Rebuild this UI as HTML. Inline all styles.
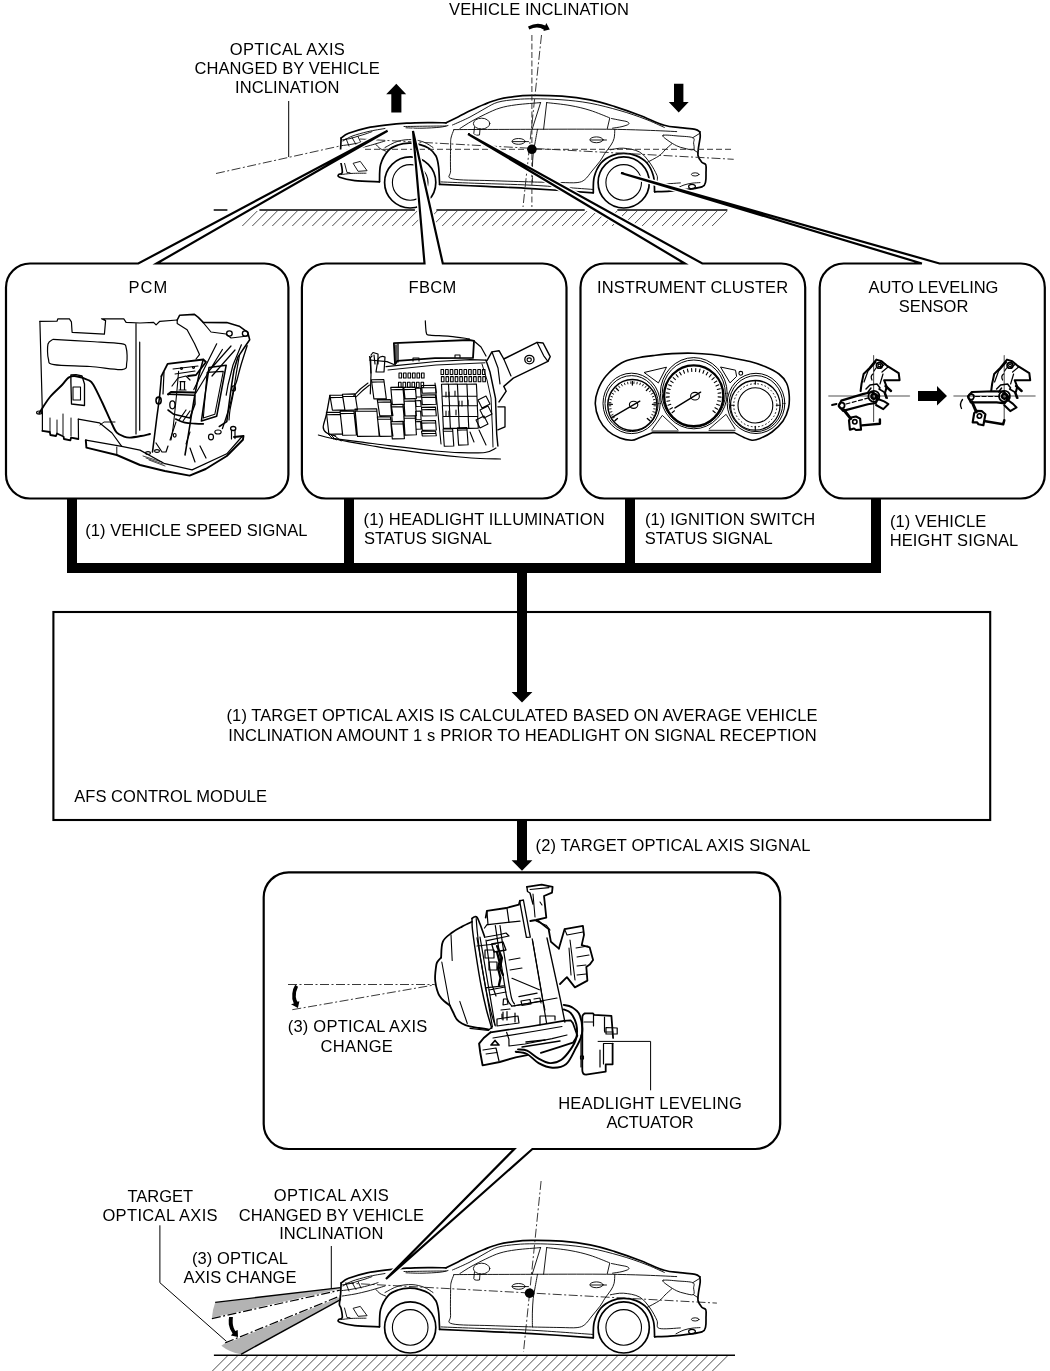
<!DOCTYPE html>
<html><head><meta charset="utf-8"><style>
html,body{margin:0;padding:0;background:#fff;}
svg{display:block;will-change:transform;}
</style></head><body>
<svg width="1050" height="1371" viewBox="0 0 1050 1371">
<rect width="1050" height="1371" fill="#fff"/>
<defs><g id="car"><g fill="none" stroke="#000" stroke-linecap="round" stroke-linejoin="round"><path d="M341.1,1283.0 C342.4,1282.2 344.3,1280.0 348.6,1278.3 C352.9,1276.6 360.6,1274.2 367.1,1272.8 C373.6,1271.4 381.0,1270.6 387.6,1269.8 C394.2,1269.0 399.7,1268.6 406.8,1268.2 C413.9,1267.8 423.4,1267.7 430.0,1267.6 C436.6,1267.5 443.4,1267.8 446.1,1267.8 " stroke-width="1.7" /><path d="M446.1,1267.8 C448.1,1266.8 453.9,1264.0 458.0,1262.0 C462.1,1260.0 466.2,1257.7 470.5,1255.6 C474.8,1253.5 479.4,1251.3 484.0,1249.5 C488.6,1247.7 492.9,1245.8 497.9,1244.5 C502.9,1243.2 508.4,1242.3 514.0,1241.6 C519.6,1240.9 523.4,1240.5 531.4,1240.4 C539.4,1240.3 552.1,1240.5 561.9,1241.2 C571.7,1241.9 581.2,1243.1 590.0,1244.8 C598.8,1246.5 606.5,1249.0 614.8,1251.6 C623.0,1254.2 631.2,1257.1 639.5,1260.2 C647.8,1263.3 657.5,1268.2 664.3,1270.3 C671.0,1272.4 674.9,1271.9 680.0,1272.6 C685.1,1273.3 691.9,1273.7 695.2,1274.4 C698.5,1275.1 699.0,1276.4 699.8,1276.8 " stroke-width="1.7" /><path d="M699.8,1276.8 C699.9,1277.7 700.4,1279.5 700.2,1282.0 C700.0,1284.5 699.0,1288.9 698.6,1292.0 C698.2,1295.1 697.5,1298.0 698.0,1300.5 C698.5,1303.0 700.5,1305.7 701.8,1307.2 C703.1,1308.8 705.1,1308.0 705.8,1309.8 C706.5,1311.6 706.0,1315.2 706.0,1318.0 C706.0,1320.8 706.2,1324.4 705.6,1326.7 C705.0,1329.0 705.3,1330.3 702.5,1331.6 C699.7,1332.8 694.4,1333.4 689.0,1334.2 C683.6,1335.0 675.7,1335.8 670.0,1336.2 C664.3,1336.6 657.2,1336.7 654.6,1336.8 " stroke-width="1.7" /><path d="M593.3,1337.8 C593.4,1335.2 592.9,1327.0 594.2,1322.0 C595.5,1317.0 598.0,1311.6 601.0,1308.0 C604.0,1304.4 608.2,1302.2 612.0,1300.6 C615.8,1299.0 619.8,1298.4 623.8,1298.4 C627.8,1298.4 632.1,1299.0 636.0,1300.6 C639.9,1302.2 644.1,1304.6 647.0,1308.0 C649.9,1311.4 652.1,1316.2 653.4,1321.0 C654.7,1325.8 654.4,1334.2 654.6,1336.8 " stroke-width="1.7" /><path d="M439.6,1329.4 C446.3,1329.7 464.7,1330.5 480.0,1331.2 C495.3,1331.9 512.5,1332.5 531.4,1333.6 C550.3,1334.7 583.0,1337.1 593.3,1337.8 " stroke-width="1.7" /><path d="M441.0,1326.9 C447.5,1327.2 464.9,1327.9 480.0,1328.4 C495.1,1329.0 512.6,1329.2 531.4,1330.2 C550.1,1331.2 582.3,1333.7 592.5,1334.4 " stroke-width="0.9" /><path d="M379.5,1326.8 C379.7,1323.9 379.2,1314.7 380.6,1309.5 C382.1,1304.3 385.3,1298.8 388.2,1295.6 C391.1,1292.3 394.5,1291.2 398.0,1290.0 C401.5,1288.8 405.5,1288.3 409.2,1288.2 C412.9,1288.1 416.7,1288.7 420.0,1289.6 C423.3,1290.5 426.3,1291.5 429.0,1293.4 C431.7,1295.3 434.4,1297.9 436.0,1301.0 C437.6,1304.1 438.0,1307.3 438.6,1312.0 C439.2,1316.7 439.4,1326.5 439.6,1329.4 " stroke-width="1.7" /><path d="M341.1,1283.0 C341.0,1285.2 340.8,1292.3 340.5,1295.9 C340.2,1299.5 339.3,1302.4 339.4,1304.5 C339.5,1306.6 340.6,1306.4 341.1,1308.6 C341.6,1310.8 342.6,1316.0 342.2,1317.8 C341.8,1319.6 339.2,1318.7 338.8,1319.4 C338.4,1320.1 336.9,1321.2 339.6,1322.2 C342.3,1323.2 348.2,1324.8 354.8,1325.6 C361.4,1326.4 375.4,1326.6 379.5,1326.8 " stroke-width="1.7" /><circle cx="410.2" cy="1327.4" r="25.6" stroke-width="1.7"/><circle cx="410.2" cy="1327.4" r="17.8" stroke-width="1.1"/><circle cx="623.7" cy="1327.4" r="25.6" stroke-width="1.7"/><circle cx="623.7" cy="1327.4" r="17.8" stroke-width="1.1"/><path d="M453.7,1274.6 C466.4,1274.5 505.6,1274.4 530.0,1274.3 C554.4,1274.2 581.7,1274.1 600.0,1274.2 C618.3,1274.3 627.2,1274.6 640.0,1275.0 C652.8,1275.4 670.6,1276.3 676.7,1276.6 " stroke-width="0.9" /><path d="M452.5,1270.0 C455.4,1268.7 464.6,1264.8 470.0,1262.0 C475.4,1259.2 480.4,1256.0 485.0,1253.5 C489.6,1251.0 492.7,1248.7 497.9,1247.2 C503.1,1245.7 509.9,1245.1 516.0,1244.5 C522.1,1243.9 526.8,1243.8 534.5,1243.8 C542.2,1243.8 552.8,1244.1 562.0,1244.8 C571.2,1245.5 580.3,1246.4 590.0,1248.2 C599.7,1250.0 610.8,1253.0 620.0,1255.6 C629.2,1258.2 637.6,1261.2 645.0,1264.0 C652.4,1266.8 661.1,1271.0 664.3,1272.4 " stroke-width="0.9" /><path d="M343.0,1286.0 C344.5,1285.2 347.8,1282.8 352.0,1281.2 C356.2,1279.6 362.5,1277.9 368.0,1276.6 C373.5,1275.3 382.2,1274.0 385.0,1273.5 " stroke-width="0.9" /><path d="M404.0,1271.5 C407.5,1271.5 418.0,1271.3 425.0,1271.2 C432.0,1271.1 442.5,1271.0 446.0,1271.0 " stroke-width="0.9" /><path d="M459.8,1273.6 C461.8,1272.3 467.7,1268.4 472.0,1266.0 C476.3,1263.6 481.0,1261.2 485.7,1259.0 C490.4,1256.8 494.9,1254.5 500.0,1253.0 C505.1,1251.5 509.4,1250.7 516.2,1249.8 C523.0,1248.9 536.5,1248.0 540.6,1247.6 " stroke-width="0.9" /><path d="M540.6,1247.6 L532.2,1274.2 M546.7,1247.6 L543.6,1274.2" stroke-width="0.9" /><path d="M546.7,1247.6 C550.6,1248.1 562.8,1249.2 570.0,1250.5 C577.2,1251.8 583.4,1253.2 590.0,1255.3 C596.6,1257.4 606.5,1261.6 609.8,1262.9  L607.3,1273.6" stroke-width="0.9" /><path d="M611.5,1263.5 C612.9,1263.8 617.4,1264.7 620.0,1265.2 C622.6,1265.8 626.0,1266.1 627.4,1266.8 C628.8,1267.5 629.5,1268.4 628.6,1269.2 C627.7,1270.0 624.7,1270.9 622.0,1271.6 C619.3,1272.3 614.1,1272.9 612.5,1273.2 " stroke-width="0.9" /><path d="M453.7,1275.2 C453.2,1276.5 451.5,1280.4 451.0,1283.0 C450.5,1285.6 450.7,1285.6 450.6,1291.0 C450.5,1296.4 450.3,1309.8 450.6,1315.3 C450.9,1320.8 445.6,1322.1 452.2,1323.8 C458.8,1325.5 476.8,1325.1 490.0,1325.6 C503.2,1326.1 524.5,1326.7 531.4,1326.9 " stroke-width="0.9" /><path d="M537.5,1274.3 C537.1,1276.6 535.7,1284.0 535.0,1288.0 C534.3,1292.0 533.6,1294.6 533.2,1298.6 C532.8,1302.6 532.5,1307.3 532.4,1312.0 C532.3,1316.7 532.4,1324.4 532.4,1326.9 " stroke-width="0.9" /><path d="M532.4,1327.0 C537.0,1327.1 552.5,1327.4 560.0,1327.5 C567.5,1327.6 573.0,1328.1 577.1,1327.6 C581.2,1327.1 582.3,1326.5 584.8,1324.6 C587.3,1322.7 589.5,1319.1 592.0,1316.0 C594.5,1312.9 597.8,1309.2 600.0,1306.2 C602.2,1303.2 603.2,1300.9 605.0,1298.2 C606.8,1295.5 609.5,1292.5 611.0,1290.0 C612.5,1287.5 613.5,1285.8 614.1,1283.3 C614.7,1280.8 614.7,1276.1 614.8,1274.7 " stroke-width="0.9" /><ellipse cx="481.6" cy="1268.6" rx="8.2" ry="5.4" stroke-width="0.9"/><path d="M474.5,1272 L473.8,1278.5 Q474,1280.2 476.5,1280.2 L479.5,1280 L480,1274" stroke-width="0.9" /><ellipse cx="518.6" cy="1286.4" rx="6.6" ry="2.9" stroke-width="0.9"/><path d="M512.5,1286.6 H528.5" stroke-width="0.9" /><ellipse cx="596.5" cy="1284.8" rx="6.6" ry="2.9" stroke-width="0.9"/><path d="M590.5,1285 H606.5" stroke-width="0.9" /><path d="M663.0,1280.3 C664.7,1279.5 673.0,1280.6 678.0,1281.0 C683.0,1281.4 690.2,1281.5 692.8,1282.7 C695.4,1283.9 693.5,1286.0 693.6,1288.0 C693.7,1290.0 695.0,1293.7 693.4,1294.6 C691.8,1295.5 686.8,1293.8 684.0,1293.2 C681.2,1292.6 679.4,1292.1 676.7,1290.8 C674.0,1289.5 670.3,1287.2 668.0,1285.5 C665.7,1283.8 661.3,1281.0 663.0,1280.3 Z" stroke-width="0.9" /><path d="M692.8,1282.7 L699.5,1278.5 M693.4,1294.6 L698.4,1298" stroke-width="0.9" /><path d="M671.7,1288.9 C670.6,1289.9 667.1,1293.0 665.0,1295.0 C662.9,1297.0 662.3,1298.6 659.3,1300.7 C656.3,1302.8 649.0,1306.4 647.0,1307.5 " stroke-width="0.9" /><path d="M610.4,1294.8 C612.6,1294.5 618.5,1292.8 623.4,1293.2 C628.2,1293.6 635.1,1294.5 639.5,1297.0 C643.9,1299.5 647.1,1304.1 650.0,1308.0 C652.9,1311.9 655.5,1317.1 657.0,1320.5 C658.5,1323.9 655.4,1327.2 659.3,1328.4 C663.2,1329.6 676.9,1328.0 680.4,1327.9 " stroke-width="0.9" /><ellipse cx="695.2" cy="1319.4" rx="3.8" ry="1.6" stroke-width="0.9"/><path d="M676.0,1333.8 C677.3,1333.2 681.3,1330.9 684.0,1330.0 C686.7,1329.1 689.3,1328.6 692.0,1328.2 C694.7,1327.8 698.7,1327.7 700.0,1327.6 " stroke-width="0.9" /><ellipse cx="692" cy="1331.6" rx="3.4" ry="2.2" stroke-width="1.2"/><path d="M353.5,1308.2 L360.3,1306.4 L367.1,1315.7 L358.5,1316.3 Z" stroke-width="0.9" /><path d="M344.5,1308 L347,1317.5 L350,1317.8" stroke-width="0.9" /><path d="M341.0,1319.6 C342.8,1319.4 347.8,1318.6 352.0,1318.4 C356.2,1318.2 363.7,1318.2 366.0,1318.2 " stroke-width="0.9" /><path d="M341.4,1285.0 C342.8,1284.8 347.2,1284.2 350.0,1283.6 C352.8,1283.0 355.3,1282.0 358.0,1281.2 C360.7,1280.4 363.7,1279.6 366.0,1278.8 C368.3,1278.0 371.0,1277.0 372.0,1276.6 " stroke-width="0.9" /><path d="M341.8,1290.6 C343.5,1290.4 348.6,1289.8 352.0,1289.2 C355.4,1288.6 358.7,1288.0 362.0,1287.2 C365.3,1286.4 369.3,1285.4 372.0,1284.6 C374.7,1283.8 377.0,1282.9 378.0,1282.6 " stroke-width="0.9" /><path d="M346,1283.5 L349,1291 M352,1282.5 L356,1289.5 M358,1281.5 L361,1288" stroke-width="0.9" /><path d="M342.4,1296.0 C344.5,1295.7 350.7,1294.8 355.0,1294.0 C359.3,1293.2 364.3,1291.9 368.0,1291.0 C371.7,1290.1 374.2,1289.2 377.0,1288.4 C379.8,1287.6 383.7,1286.4 385.0,1286.0 " stroke-width="0.9" /><path d="M376.0,1289.5 C376.7,1290.2 378.3,1292.4 380.0,1293.5 C381.7,1294.6 385.0,1295.8 386.0,1296.2 " stroke-width="0.9" /><path d="M385.0,1292.5 C387.2,1291.5 393.5,1287.5 398.0,1286.2 C402.5,1284.9 407.7,1284.4 412.0,1284.6 C416.3,1284.8 420.5,1285.9 424.0,1287.2 C427.5,1288.5 431.5,1291.6 433.0,1292.5 " stroke-width="0.9" /><path d="M406.0,1272.8 C408.7,1272.9 416.3,1273.3 422.0,1273.2 C427.7,1273.1 435.7,1272.7 440.0,1272.2 C444.3,1271.8 446.7,1270.8 448.0,1270.5 " stroke-width="0.9" /></g></g></defs><use href="#car" transform="translate(0,-1145)"/><g stroke="#000" fill="none"><path d="M213.7,210 H227.4 M259.4,210 H414.9 M436.4,210 H584.7 M617.3,210 H727.4" stroke-width="1.6"/><path d="M242.3,226.0 L257.3,211.0 M252.3,226.0 L267.3,211.0 M262.3,226.0 L277.3,211.0 M272.3,226.0 L287.3,211.0 M282.3,226.0 L297.3,211.0 M292.3,226.0 L307.3,211.0 M302.3,226.0 L317.3,211.0 M312.3,226.0 L327.3,211.0 M322.3,226.0 L337.3,211.0 M332.3,226.0 L347.3,211.0 M342.3,226.0 L357.3,211.0 M352.2,226.0 L367.2,211.0 M362.2,226.0 L377.2,211.0 M372.2,226.0 L387.2,211.0 M382.2,226.0 L397.2,211.0 M392.2,226.0 L407.2,211.0 M402.2,226.0 L417.2,211.0 M412.2,226.0 L427.2,211.0 M422.2,226.0 L437.2,211.0 M432.2,226.0 L447.2,211.0 M442.2,226.0 L457.2,211.0 M452.2,226.0 L467.2,211.0 M462.2,226.0 L477.2,211.0 M472.2,226.0 L487.2,211.0 M482.2,226.0 L497.2,211.0 M492.2,226.0 L507.2,211.0 M502.2,226.0 L517.2,211.0 M512.2,226.0 L527.2,211.0 M522.2,226.0 L537.2,211.0 M532.2,226.0 L547.2,211.0 M542.2,226.0 L557.2,211.0 M552.1,226.0 L567.1,211.0 M562.1,226.0 L577.1,211.0 M572.1,226.0 L587.1,211.0 M582.1,226.0 L597.1,211.0 M592.1,226.0 L607.1,211.0 M602.1,226.0 L617.1,211.0 M612.1,226.0 L627.1,211.0 M622.1,226.0 L637.1,211.0 M632.1,226.0 L647.1,211.0 M642.1,226.0 L657.1,211.0 M652.1,226.0 L667.1,211.0 M662.1,226.0 L677.1,211.0 M672.1,226.0 L687.1,211.0 M682.1,226.0 L697.1,211.0 M692.1,226.0 L707.1,211.0 M702.1,226.0 L717.1,211.0 M712.1,226.0 L727.1,211.0 " stroke-width="0.8" stroke="#222"/><path d="M213.9,1355.3 H735" stroke-width="1.6"/><path d="M212.4,1371.0 L227.4,1356.0 M222.4,1371.0 L237.4,1356.0 M232.4,1371.0 L247.4,1356.0 M242.4,1371.0 L257.4,1356.0 M252.4,1371.0 L267.4,1356.0 M262.4,1371.0 L277.4,1356.0 M272.4,1371.0 L287.4,1356.0 M282.4,1371.0 L297.4,1356.0 M292.4,1371.0 L307.4,1356.0 M302.4,1371.0 L317.4,1356.0 M312.4,1371.0 L327.4,1356.0 M322.4,1371.0 L337.4,1356.0 M332.4,1371.0 L347.4,1356.0 M342.4,1371.0 L357.4,1356.0 M352.4,1371.0 L367.4,1356.0 M362.4,1371.0 L377.4,1356.0 M372.4,1371.0 L387.4,1356.0 M382.4,1371.0 L397.4,1356.0 M392.4,1371.0 L407.4,1356.0 M402.4,1371.0 L417.4,1356.0 M412.4,1371.0 L427.4,1356.0 M422.4,1371.0 L437.4,1356.0 M432.4,1371.0 L447.4,1356.0 M442.4,1371.0 L457.4,1356.0 M452.4,1371.0 L467.4,1356.0 M462.4,1371.0 L477.4,1356.0 M472.4,1371.0 L487.4,1356.0 M482.4,1371.0 L497.4,1356.0 M492.4,1371.0 L507.4,1356.0 M502.4,1371.0 L517.4,1356.0 M512.4,1371.0 L527.4,1356.0 M522.4,1371.0 L537.4,1356.0 M532.4,1371.0 L547.4,1356.0 M542.4,1371.0 L557.4,1356.0 M552.4,1371.0 L567.4,1356.0 M562.4,1371.0 L577.4,1356.0 M572.4,1371.0 L587.4,1356.0 M582.4,1371.0 L597.4,1356.0 M592.4,1371.0 L607.4,1356.0 M602.4,1371.0 L617.4,1356.0 M612.4,1371.0 L627.4,1356.0 M622.4,1371.0 L637.4,1356.0 M632.4,1371.0 L647.4,1356.0 M642.4,1371.0 L657.4,1356.0 M652.4,1371.0 L667.4,1356.0 M662.4,1371.0 L677.4,1356.0 M672.4,1371.0 L687.4,1356.0 M682.4,1371.0 L697.4,1356.0 M692.4,1371.0 L707.4,1356.0 M702.4,1371.0 L717.4,1356.0 M712.4,1371.0 L727.4,1356.0 " stroke-width="0.8" stroke="#222"/></g><g fill="none" stroke="#222" stroke-width="0.9"><path d="M365,149.3 H733.7" stroke-dasharray="6 3"/><path d="M360,139 L733.7,159.3" stroke-dasharray="9 2.5 2 2.5"/><path d="M216,173.5 L341.7,145.6" stroke-dasharray="9 2.5 2 2.5"/><path d="M531.9,35 V207" stroke-dasharray="6 2.5"/><path d="M541.5,35 L523,207" stroke-dasharray="9 2.5 2 2.5"/><path d="M345,1283 L716.9,1303.1" stroke-dasharray="9 2.5 2 2.5"/><path d="M541.1,1181 L523.5,1352" stroke-dasharray="9 2.5 2 2.5"/></g><g fill="none" stroke="#000" stroke-width="1"><path d="M288.7,101 V157"/><path d="M159.9,1225.3 V1282.7 L227.6,1342.4"/><path d="M331.3,1246 V1293.3"/><path d="M650.6,1090.3 V1041.4 H597.7"/></g><circle cx="531.9" cy="149.3" r="4.8" fill="#000"/><circle cx="529.6" cy="1293.2" r="4.8" fill="#000"/><path d="M391.3,112.4 H401.4 V94.3 H406.2 L396.3,83.8 L386.2,94.3 H391.3 Z" fill="#000"/><path d="M674,83.8 H683.4 V102 H688.7 L678.7,112.5 L668.8,102 H674 Z" fill="#000"/><path d="M528,26.4 Q537.2,21.6 545.3,25.4 L546.3,23.1 L549.8,29.6 L543.4,30.9 L543.9,29.7 Q537.4,25.2 529.3,29.6 Z" fill="#000"/><path d="M215.2,1302.4 L340.6,1287.6 L340.6,1290 L211.9,1318.6 Q212.2,1310 215.2,1302.4 Z" fill="#b3b3b3"/><path d="M225.2,1342.9 L341,1295.6 L341,1299.4 L241,1354.3 Q229,1352 221.4,1345.7 Z" fill="#b3b3b3"/><path d="M215.2,1302.4 L340.6,1287.6" stroke="#000" stroke-width="1.4"/><path d="M211.9,1318.6 L340.6,1290 M225.2,1342.9 L341,1295.6" stroke="#fff" stroke-width="1.8"/><path d="M211.9,1318.6 L340.6,1290" stroke="#000" stroke-width="1.2" stroke-dasharray="9 2.5 2 2.5"/><path d="M225.2,1342.9 L341,1295.6" stroke="#000" stroke-width="1.2" stroke-dasharray="9 2.5 2 2.5"/><path d="M241,1354.3 L341,1299.4" stroke="#000" stroke-width="1.4"/><path d="M229.1,1316.9 L232.9,1317.1 Q232.2,1324 233.6,1327.5 Q234.5,1329.5 235.3,1331 L237.7,1330 L238,1336.9 L230.9,1335.4 L232.6,1333.6 Q229.6,1329.5 228.8,1324.5 Q228.4,1320 229.1,1316.9 Z" fill="#000"/><use href="#car"/><g fill="none" stroke="#222" stroke-width="0.9"><path d="M288,984.5 H434.6" stroke-dasharray="9 2.5 2 2.5"/><path d="M292.3,1009.7 L434.6,984.9" stroke-dasharray="9 2.5 2 2.5"/></g><path d="M295.2,984.7 L298,986.8 Q295.4,992 295.8,997 Q296.2,1000 297.6,1001.8 L299.4,1001.3 L297.9,1008.1 L291,1004.3 L293.8,1003.5 Q291.6,999 292.3,993.5 Q293,988 295.2,984.7 Z" fill="#000"/><g fill="none" stroke="#000" stroke-linecap="round" stroke-linejoin="round"><path d="M652.9,432.6 C650.8,433.4 643.5,436.2 640.0,437.5 C636.5,438.8 635.2,440.1 631.9,440.2 C628.6,440.3 624.0,439.5 620.0,438.0 C616.0,436.5 611.5,434.2 608.0,431.0 C604.5,427.8 601.1,423.5 599.0,419.0 C596.9,414.5 595.5,408.8 595.3,404.0 C595.1,399.2 596.2,394.7 598.0,390.0 C599.8,385.3 602.1,380.5 606.0,376.0 C609.9,371.5 616.2,366.0 621.4,363.0 C626.6,360.0 631.8,359.2 637.0,358.0 C642.2,356.8 647.1,356.3 652.9,355.6 C658.7,354.9 665.3,354.0 672.0,353.6 C678.7,353.2 686.2,353.1 692.9,353.2 C699.6,353.3 705.8,353.8 712.0,354.5 C718.2,355.2 723.7,356.3 730.0,357.5 C736.3,358.7 744.2,360.0 750.0,361.5 C755.8,363.0 760.2,364.4 765.0,366.5 C769.8,368.6 775.4,371.2 779.0,374.0 C782.6,376.8 784.8,379.5 786.5,383.0 C788.2,386.5 788.9,390.8 789.2,395.0 C789.5,399.2 789.5,403.7 788.5,408.0 C787.5,412.3 785.8,417.0 783.0,421.0 C780.2,425.0 775.8,429.1 772.0,432.0 C768.2,434.9 763.3,437.1 760.0,438.5 C756.7,439.9 754.7,440.4 752.0,440.2 C749.3,440.0 746.9,438.8 744.0,437.5 C741.1,436.2 736.1,433.4 734.5,432.6  L652.9,432.6" stroke-width="1.6" /><ellipse cx="631.6" cy="403.4" rx="28.6" ry="30.2" stroke-width="1.0" fill="none" /><ellipse cx="631.6" cy="403.6" rx="26.6" ry="28.0" stroke-width="1.0" fill="none" /><ellipse cx="632.4" cy="405.0" rx="24.6" ry="25.6" stroke-width="1.5" fill="none" /><path d="M648.5,419.5 L649.7,420.6 M650.3,417.1 L651.7,418.0 M651.8,414.5 L653.3,415.2 M652.9,411.7 L654.6,412.2 M653.7,408.8 L655.3,409.0 M654.0,405.8 L655.7,405.8 M653.9,402.7 L655.6,402.6 M653.4,399.8 L655.0,399.4 M652.4,396.9 L654.0,396.3 M651.1,394.2 L652.6,393.4 M649.4,391.7 L650.8,390.7 M647.4,389.5 L648.6,388.2 M645.1,387.5 L646.1,386.1 M642.5,385.9 L643.3,384.4 M639.8,384.7 L640.4,383.1 M636.9,383.9 L637.2,382.2 M633.9,383.5 L634.0,381.8 M630.9,383.5 L630.8,381.8 M627.9,383.9 L627.6,382.2 M625.0,384.7 L624.4,383.1 M622.3,385.9 L621.5,384.4 M619.7,387.5 L618.7,386.1 M617.4,389.5 L616.2,388.2 M615.4,391.7 L614.0,390.7 M613.7,394.2 L612.2,393.4 M612.4,396.9 L610.8,396.3 M611.4,399.8 L609.8,399.4 M610.9,402.7 L609.2,402.6 M610.8,405.8 L609.1,405.8 M611.1,408.8 L609.5,409.0 M611.9,411.7 L610.2,412.2 M613.0,414.5 L611.5,415.2 M614.5,417.1 L613.1,418.0 M616.3,419.5 L615.1,420.6 " stroke-width="0.9" /><path d="M647.3,418.4 L649.9,420.8 M652.4,404.3 L656.0,404.2 M646.3,390.6 L648.8,388.0 M632.4,385.0 L632.4,381.4 M618.5,390.6 L616.0,388.0 M612.4,404.3 L608.8,404.2 M617.5,418.4 L614.9,420.8 " stroke-width="1.3" /><path d="M612,417.3 L639.8,401.2" stroke-width="1.4" /><ellipse cx="633.6" cy="404.8" rx="4.2" ry="3.6" stroke-width="1.1" fill="none" /><ellipse cx="693.8" cy="393.2" rx="33.4" ry="35.6" stroke-width="1.0" fill="none" /><ellipse cx="693.8" cy="393.6" rx="31.6" ry="33.6" stroke-width="1.0" fill="none" /><ellipse cx="693.7" cy="395.8" rx="29.6" ry="30.4" stroke-width="2.3" fill="none" /><path d="M712.9,410.8 L715.3,412.7 M715.0,407.7 L717.6,409.2 M716.6,404.3 L719.4,405.3 M717.6,400.7 L720.5,401.3 M718.1,396.9 L721.1,397.1 M718.0,393.2 L720.9,392.9 M717.3,389.5 L720.2,388.7 M716.0,386.0 L718.8,384.7 M714.3,382.6 L716.8,381.0 M712.0,379.6 L714.2,377.7 M709.3,377.0 L711.2,374.7 M706.2,374.9 L707.8,372.3 M702.9,373.2 L704.0,370.4 M699.3,372.0 L700.0,369.1 M695.6,371.5 L695.8,368.5 M691.8,371.5 L691.6,368.5 M688.1,372.0 L687.4,369.1 M684.5,373.2 L683.4,370.4 M681.2,374.9 L679.6,372.3 M678.1,377.0 L676.2,374.7 M675.4,379.6 L673.2,377.7 M673.1,382.6 L670.6,381.0 M671.4,386.0 L668.6,384.7 M670.1,389.5 L667.2,388.7 M669.4,393.2 L666.5,392.9 M669.3,396.9 L666.3,397.1 M669.8,400.7 L666.9,401.3 M670.8,404.3 L668.0,405.3 M672.4,407.7 L669.8,409.2 M674.5,410.8 L672.1,412.7 " stroke-width="1.1" /><path d="M675,407.9 L700.6,392.2" stroke-width="1.5" /><ellipse cx="695.0" cy="396.2" rx="4.4" ry="3.8" stroke-width="1.1" fill="none" /><ellipse cx="756.0" cy="403.4" rx="28.8" ry="30.1" stroke-width="1.0" fill="none" /><ellipse cx="756.0" cy="403.6" rx="26.8" ry="28.0" stroke-width="1.0" fill="none" /><ellipse cx="755.3" cy="405.3" rx="24.8" ry="24.8" stroke-width="1.3" fill="none" /><ellipse cx="755.4" cy="405.4" rx="17.4" ry="17.6" stroke-width="1.1" fill="none" /><circle cx="755.3" cy="405.3" r="21.6" stroke-width="0.9" stroke-dasharray="0.9 2.8" fill="none"/><path d="M776.3,405.3 L780.1,405.3 M755.3,384.3 L755.3,380.5 M734.3,405.3 L730.5,405.3 M755.3,426.3 L755.3,430.1 " stroke-width="1.1" /><circle cx="740.8" cy="373.3" r="1.9" stroke-width="1.1" fill="none"/><path d="M644.5,372.4 L666.5,367.2 L658.6,382.6 Z" stroke-width="1.0" /><path d="M720.9,367.1 L735.5,370.2 L736.6,376.4 L730.3,382.6 Z" stroke-width="1.0" /><path d="M651.8,429.9 L662.3,415.4 L678.0,429.9" stroke-width="0.9" /><path d="M709.3,428.8 L726.1,414.3 L735.0,428.8" stroke-width="0.9" /><path d="M652,431 H678 M709,430.3 H735" stroke-width="0.9" /><path d="M39.9,321.4 L57.0,321.2 L57.9,318.8 L69.4,318.9 L71.4,321.8 L72.1,332.3 L104.4,334.2 L105.6,320.6 L101.5,318.8 L123.8,318.9 L126.1,322.4 L140.0,323.0 L153.6,322.4 L156.1,324.9 L159.8,321.3 L177.2,320.0" stroke-width="1.2" /><path d="M39.9,321.4 L42.4,412.9 L42.4,430.9" stroke-width="1.2" /><path d="M53.0,339.3 C59.2,339.7 78.7,340.8 90.0,341.5 C101.3,342.2 115.0,342.5 121.0,343.6 C127.0,344.7 125.2,344.8 126.2,348.0 C127.2,351.2 127.4,359.4 126.7,363.0 C126.0,366.6 128.1,369.0 122.0,369.6 C115.9,370.2 101.3,367.3 90.0,366.5 C78.7,365.7 60.9,365.9 54.0,364.6 C47.1,363.4 49.4,362.4 48.4,359.0 C47.4,355.6 47.2,347.3 48.0,344.0 C48.8,340.7 52.2,340.1 53.0,339.3 " stroke-width="1.2" /><path d="M136,323.6 V434 M139.7,342.2 V430.2" stroke-width="1.2" /><path d="M39.3,412.9 C41.1,410.2 46.2,401.6 50.0,397.0 C53.8,392.4 58.9,388.2 62.0,385.0 C65.1,381.8 66.2,379.1 68.5,377.6 C70.8,376.1 72.8,375.8 76.0,376.2 C79.2,376.6 85.1,378.6 88.0,380.0 C90.9,381.4 90.9,380.7 93.2,384.4 C95.5,388.1 98.9,395.4 102.0,402.0 C105.1,408.6 109.5,418.9 112.0,424.0 C114.5,429.1 114.8,430.6 116.8,432.7 C118.8,434.8 121.8,435.8 124.0,436.6 C126.2,437.4 127.2,437.7 130.0,437.6 C132.8,437.5 137.7,436.6 141.0,436.0 C144.3,435.4 148.5,434.3 150.0,434.0 " stroke-width="1.92" /><ellipse cx="39.2" cy="412.6" rx="2.6" ry="1.6" stroke-width="1.2" fill="none" /><path d="M70.9,375.0 L70.9,382.0 L71.5,404.0 L84.5,405.5 L84.5,384.0 L82.0,376.0 L76.0,374.6 Z" stroke-width="1.32" /><path d="M73.0,387.0 L80.5,387.0 L80.5,400.0 L73.0,400.0 Z" stroke-width="1.08" /><path d="M42.4,430.9 L49.8,432.0 L50.4,435.0 L56.0,436.0 L57.0,433.5 L63.5,436.5 L64.0,439.0 L70.4,440.4 L71.0,437.6 L78.3,439.0" stroke-width="1.8" /><path d="M50,418 V432 M57,420 V433 M63,414 V435 M71,418 V436" stroke-width="0.96" /><path d="M78.3,419.1 L99.4,422.8 L112.0,433.0 L121.7,446.4" stroke-width="1.2" /><path d="M78.3,419.1 L78.5,439.0" stroke-width="1.2" /><path d="M85.8,440.2 L86.4,447.6 L116.8,455.0 L140.0,465.0 L164.8,471.0 L189.6,475.6 L205.7,469.0 L226.8,456.0 L242.9,439.8 L243.5,436.0 L234.0,437.0" stroke-width="1.92" /><path d="M86.0,440.2 L121.7,446.4 L140.0,450.1 L164.8,463.7 L192.1,469.9 L226.8,453.8 L241.6,437.0" stroke-width="1.2" /><path d="M116.8,447 V455 M100,425 L104,422 H115" stroke-width="0.96" /><path d="M177.2,320.0 L179.7,315.2 L194.5,314.4 L198.3,317.4 L203.2,322.4 L226.8,322.6 L239.2,326.2 L247.8,332.4 L249.7,339.8 L244.0,348.0 L237.9,357.1 L234.0,370.0 L231.7,384.4 L229.0,404.0 L226.8,421.6 L219.3,426.5" stroke-width="1.56" /><path d="M177.2,320.0 L177.2,323.6 L187.1,329.8 L194.5,343.5 L199.5,354.6 L196.0,359.0" stroke-width="1.2" /><ellipse cx="229.4" cy="333.5" rx="2.8" ry="2.6" stroke-width="1.32" fill="none" /><ellipse cx="245.2" cy="333.5" rx="2.8" ry="2.6" stroke-width="1.32" fill="none" /><path d="M203,322.4 L211,332 L226,334 L231,338 L248,336" stroke-width="1.08" /><path d="M216.7,343.8 L193.8,389.5 M222.4,349.5 L195.7,393.3 M231,346 L208,372 M235,350 L212,376" stroke-width="1.2" /><path d="M241.4,344.8 L233,365 L228,385 L226.2,395.2" stroke-width="1.2" /><path d="M239.5,355.2 C238.9,358.5 237.1,368.4 236.0,375.0 C234.9,381.6 234.0,389.2 233.0,395.0 C232.0,400.8 230.7,405.8 230.0,410.0 C229.3,414.2 229.2,418.3 229.0,420.0 " stroke-width="1.2" /><path d="M247.1,345.7 C246.1,348.9 242.7,359.3 241.0,365.0 C239.3,370.7 238.2,375.9 237.0,380.0 C235.8,384.1 235.0,385.3 233.8,389.5 C232.6,393.7 231.3,400.2 230.0,405.0 C228.7,409.8 227.3,414.1 226.0,418.0 C224.7,421.9 223.0,426.8 222.4,428.6 " stroke-width="1.32" /><ellipse cx="233.6" cy="388.5" rx="1.8" ry="2.6" stroke-width="1.32" fill="none" /><path d="M209.0,367.6 L226.2,365.2 L216.7,416.2 L201.4,421.0 Z" stroke-width="1.56" /><path d="M207.1,372.4 L223.3,371.4 L214.8,414.3 L203.3,418.1 Z" stroke-width="1.08" /><path d="M161.4,376.2 L167.6,363.8 L203.3,359.5 L206.0,362.0 L196.0,375.0 L188.0,376.0" stroke-width="1.8" /><path d="M173,369 L198,366 M175,374 L195,371" stroke-width="1.08" /><ellipse cx="181.5" cy="368.5" rx="1.0" ry="0.8" stroke-width="1.2" fill="none" /><ellipse cx="193.5" cy="367.5" rx="1.0" ry="0.8" stroke-width="1.2" fill="none" /><path d="M161.4,376.2 C161.1,379.7 160.3,389.7 159.5,397.0 C158.7,404.3 157.4,412.8 156.5,420.0 C155.6,427.2 154.7,434.7 154.0,440.0 C153.3,445.3 152.8,450.0 152.5,452.0 " stroke-width="1.56" /><path d="M203.3,359.5 C202.6,362.1 200.4,369.1 199.0,375.0 C197.6,380.9 196.1,388.0 194.8,395.2 C193.5,402.4 192.2,410.5 191.0,418.0 C189.8,425.5 188.5,433.8 187.5,440.0 C186.5,446.2 185.4,452.5 185.0,455.0 " stroke-width="1.56" /><path d="M178.6,371.4 C178.3,374.5 177.6,383.6 177.0,390.0 C176.4,396.4 175.7,403.7 175.0,410.0 C174.3,416.3 173.7,423.0 173.0,428.0 C172.3,433.0 171.3,438.0 171.0,440.0 " stroke-width="1.08" /><path d="M164,372 L163,394" stroke-width="1.2" /><path d="M168.1,394.3 L194.8,395.2 L195.0,404.0 L192.0,412.0 L190.0,418.0 L173.8,414.3 L168.0,410.0" stroke-width="1.56" /><path d="M168.1,394.3 L171,392 L194,392.5" stroke-width="2.16" /><ellipse cx="172.4" cy="404.8" rx="2.6" ry="4.0" stroke-width="1.32" fill="none" /><ellipse cx="158.6" cy="400.5" rx="2.6" ry="3.4" stroke-width="1.56" fill="none" /><path d="M180.5,382 V390 M184.5,382 V390 M180,381.6 H185 M179,390 H186" stroke-width="1.2" /><path d="M172,386 L178,378 L186,376 L190,380" stroke-width="1.2" /><path d="M175.7,419.0 C177.2,419.6 181.8,421.8 185.0,422.6 C188.2,423.4 191.9,423.4 195.0,423.6 C198.1,423.8 201.9,423.8 203.3,423.8 " stroke-width="1.68" /><path d="M179,420 L186,410 M183,421 L190,411" stroke-width="1.2" /><path d="M170,440 L176,422 M186,444 L190,432" stroke-width="1.08" /><ellipse cx="174.7" cy="435.3" rx="1.4" ry="1.8" stroke-width="1.2" fill="none" /><ellipse cx="233.2" cy="428.5" rx="2.6" ry="2.0" stroke-width="1.32" fill="none" /><path d="M231.5,430 V439 M235,430 V438.6" stroke-width="1.2" /><ellipse cx="211" cy="437" rx="2.5" ry="2.8" stroke-width="1.2" fill="none" /><ellipse cx="218" cy="432" rx="3.2" ry="2.0" stroke-width="1.08" fill="none" /><ellipse cx="148" cy="453" rx="2.4" ry="1.4" stroke-width="1.08" fill="none" /><ellipse cx="157" cy="451" rx="2.4" ry="1.4" stroke-width="1.08" fill="none" /><path d="M156,443 L162,452 L166,452 L168,446 M190,448 L195,462 M200,446 L206,458" stroke-width="1.2" /><path d="M143,456 L162,462 M146,458 L163,464 M149,460 L165,466" stroke-width="0.72" /><path d="M318.4,435.0 C320.3,435.5 324.9,436.9 330.0,438.0 C335.1,439.1 342.6,440.6 349.3,441.9 C356.0,443.1 363.3,444.4 370.0,445.5 C376.7,446.6 382.3,447.7 389.3,448.7 C396.3,449.7 404.4,450.7 412.0,451.6 C419.6,452.6 427.0,453.5 435.0,454.4 C443.0,455.3 452.5,456.3 460.0,457.0 C467.5,457.7 473.2,458.2 480.0,458.5 C486.8,458.8 497.1,458.9 500.5,459.0 " stroke-width="1.2" /><path d="M332.1,438.4 C336.8,439.0 350.5,440.6 360.0,441.8 C369.5,443.0 379.8,444.5 389.0,445.6 C398.2,446.7 407.3,447.7 415.0,448.6 C422.7,449.5 427.5,450.3 435.0,451.0 C442.5,451.7 451.7,452.4 460.0,452.6 C468.3,452.9 479.0,453.3 485.0,452.5 C491.0,451.7 494.2,448.8 496.0,448.0 " stroke-width="1.2" /><path d="M329.9,395.3 C329.3,398.5 327.5,409.1 326.4,414.4 C325.3,419.7 323.2,423.9 323.2,427.0 C323.2,430.1 324.3,431.2 326.4,432.7 C328.5,434.2 334.1,435.5 335.6,436.1 " stroke-width="1.32" /><path d="M393.9,343.2 L435.0,341.4 L469.3,340.0 L474.0,340.8 L473.0,357.9 L435.0,358.1 L397.3,360.9 L395.0,364.3 L393.9,343.2 Z" stroke-width="1.8" /><path d="M396,345 V363 M398,344 V362" stroke-width="1.32" /><path d="M413,361 V358 H419 V361 M455,357.5 V355 H460 V357.5" stroke-width="1.08" /><path d="M425.3,320.8 C425.4,321.7 425.4,323.9 425.6,326.0 C425.8,328.1 425.8,332.0 426.5,333.5 C427.2,335.0 426.1,334.7 430.0,335.2 C433.9,335.7 443.4,335.7 450.0,336.3 C456.6,336.9 466.1,338.4 469.3,338.8 " stroke-width="1.2" /><path d="M474,341 L481,347 L486,356" stroke-width="1.2" /><path d="M369.5,360.0 L387.0,361.6 L393.9,364.5" stroke-width="1.2" /><path d="M386.0,366.6 L436.0,361.5 L470.0,359.6 L486.0,360.2" stroke-width="1.2" /><path d="M388.0,370.0 L436.0,365.0 L485.0,362.8" stroke-width="0.96" /><path d="M369.5,356.5 L370.7,359.8 L371,375 L370.3,393.8" stroke-width="1.2" /><path d="M353.5,396 Q360,388.5 368,383 M355.5,397.5 Q362,390.5 369.5,385" stroke-width="1.08" /><path d="M371,355 L373,352.5 L378,354 L378,364 M374,355 L375,364" stroke-width="1.2" /><path d="M399.0,373 h2.6 v5 h-2.6 z M398.5,382.3 h2.6 v5.2 h-2.6 z M403.5,373 h2.6 v5 h-2.6 z M403.0,382.3 h2.6 v5.2 h-2.6 z M408.0,373 h2.6 v5 h-2.6 z M407.5,382.3 h2.6 v5.2 h-2.6 z M412.5,373 h2.6 v5 h-2.6 z M412.0,382.3 h2.6 v5.2 h-2.6 z M417.0,373 h2.6 v5 h-2.6 z M416.5,382.3 h2.6 v5.2 h-2.6 z M421.5,373 h2.6 v5 h-2.6 z M421.0,382.3 h2.6 v5.2 h-2.6 z M441.0,369.5 h2.6 v5 h-2.6 z M441.4,376.6 h2.6 v5.2 h-2.6 z M445.6,369.5 h2.6 v5 h-2.6 z M446.0,376.6 h2.6 v5.2 h-2.6 z M450.2,369.5 h2.6 v5 h-2.6 z M450.59999999999997,376.6 h2.6 v5.2 h-2.6 z M454.8,369.5 h2.6 v5 h-2.6 z M455.2,376.6 h2.6 v5.2 h-2.6 z M459.4,369.5 h2.6 v5 h-2.6 z M459.79999999999995,376.6 h2.6 v5.2 h-2.6 z M464.0,369.5 h2.6 v5 h-2.6 z M464.4,376.6 h2.6 v5.2 h-2.6 z M468.6,369.5 h2.6 v5 h-2.6 z M469.0,376.6 h2.6 v5.2 h-2.6 z M473.2,369.5 h2.6 v5 h-2.6 z M473.59999999999997,376.6 h2.6 v5.2 h-2.6 z M477.8,369.5 h2.6 v5 h-2.6 z M478.2,376.6 h2.6 v5.2 h-2.6 z M482.4,369.5 h2.6 v5 h-2.6 z M482.79999999999995,376.6 h2.6 v5.2 h-2.6 z " stroke-width="1.08" /><path d="M486.0,360.2 L490.0,372.0 L495.5,398.3 L496.7,434.0 L497.9,446.0" stroke-width="1.44" /><path d="M482.0,364.0 L487.0,380.0 L491.0,398.0 L492.5,430.0 L493.0,447.0" stroke-width="0.96" /><path d="M487.1,360.3 L491.9,351.9 L499.0,350.7 L503.8,359.0 L537.1,342.4 L543.1,343.0 L550.2,356.7 L547.9,361.4 L513.3,378.1 L503.8,386.4 L506.2,391.2 L499.0,401.9" stroke-width="1.44" /><path d="M537.1,342.4 L543.6,355.6 L547.9,361.4 M503.8,359 L511,376 M492,352 L498,368 L500,384" stroke-width="1.2" /><ellipse cx="529.4" cy="359.6" rx="4.6" ry="4.3" stroke-width="1.32" fill="none" /><ellipse cx="529.2" cy="359.8" rx="2.1" ry="1.9" stroke-width="1.08" fill="none" /><path d="M497.9,406.8 L505.0,406.8 L505.0,426.9 L497.9,429.9" stroke-width="1.32" /><path d="M329.9,395.3 L342.4,395 L344.9,409.9 L332.4,410.2 Z M330.2,397.6 L342.59999999999997,397.3 M342.4,394.2 L355,393.9 L357.5,409.9 L344.9,410.2 Z M342.7,396.5 L355.2,396.2 M326.4,412.40000000000003 L340.1,412.1 L342.6,433.9 L328.9,434.2 Z M326.7,414.70000000000005 L340.3,414.40000000000003 M340.1,411.3 L353.9,411 L356.4,435 L342.6,435.3 Z M340.40000000000003,413.6 L354.09999999999997,413.3 M355,409.0 L376.7,408.7 L379.2,436.1 L357.5,436.40000000000003 Z M355.3,411.3 L376.9,411.0 M377.3,399.90000000000003 L390.4,399.6 L392.9,415.6 L379.8,415.90000000000003 Z M377.6,402.20000000000005 L390.59999999999997,401.90000000000003 M377.3,417.0 L390.4,416.7 L392.9,436.1 L379.8,436.40000000000003 Z M377.6,419.3 L390.59999999999997,419.0 M371.4,379.8 L383.8,379.5 L386.3,398.6 L373.9,398.90000000000003 Z M371.7,382.1 L384.0,381.8 M390.8,387.40000000000003 L402.9,387.1 L404.4,404.3 L392.3,404.6 Z M391.1,389.70000000000005 L403.09999999999997,389.40000000000003 M390.8,404.6 L402.9,404.3 L404.4,421.4 L392.3,421.7 Z M391.1,406.90000000000003 L403.09999999999997,406.6 M390.8,421.7 L402.9,421.4 L404.4,438.6 L392.3,438.90000000000003 Z M391.1,424.0 L403.09999999999997,423.7 M403.8,387.3 L415.2,387 L416.4,398.6 L405.0,398.90000000000003 Z M404.1,389.6 L415.4,389.3 M403.8,398.90000000000003 L415.2,398.6 L416.4,415.7 L405.0,416.0 Z M404.1,401.20000000000005 L415.4,400.90000000000003 M403.8,416.0 L415.2,415.7 L416.4,434.8 L405.0,435.1 Z M404.1,418.3 L415.4,418.0 M415.6,388.3 L420.6,388 L421.1,396.7 L416.1,397.0 Z M415.6,400.8 L420.6,400.5 L421.1,406.2 L416.1,406.5 Z M415.6,411.3 L420.6,411 L421.1,419.5 L416.1,419.8 Z M415.6,421.7 L420.6,421.4 L421.1,429 L416.1,429.3 Z M421.5,385.5 L435.5,385.2 L436.3,392.9 L422.3,393.2 Z M421.8,387.8 L435.7,387.5 M421.5,395.1 L435.5,394.8 L436.3,404.3 L422.3,404.6 Z M421.8,397.40000000000003 L435.7,397.1 M421.5,407.40000000000003 L435.5,407.1 L436.3,415.7 L422.3,416.0 Z M421.8,409.70000000000005 L435.7,409.40000000000003 M421.5,420.8 L435.5,420.5 L436.3,430 L422.3,430.3 Z M421.8,423.1 L435.7,422.8 M421.5,431.3 L435.5,431 L436.3,435.7 L422.3,436.0 Z M421.8,433.6 L435.7,433.3 M441.5,384.3 L448.5,384 L449.1,396 L442.1,396.3 Z M441.98,396.3 L448.98,396 L449.58000000000004,405.5 L442.58000000000004,405.8 Z M442.36,405.8 L449.36,405.5 L449.96000000000004,416.2 L442.96000000000004,416.5 Z M442.788,416.5 L449.788,416.2 L450.38800000000003,428.1 L443.38800000000003,428.40000000000003 Z M448.5,384.3 L457.4,384 L458.0,396 L449.1,396.3 Z M448.98,396.3 L457.88,396 L458.48,405.5 L449.58000000000004,405.8 Z M449.36,405.8 L458.26,405.5 L458.86,416.2 L449.96000000000004,416.5 Z M449.788,416.5 L458.688,416.2 L459.288,428.1 L450.38800000000003,428.40000000000003 Z M457.4,384.3 L466.9,384 L467.5,396 L458.0,396.3 Z M457.88,396.3 L467.38,396 L467.98,405.5 L458.48,405.8 Z M458.26,405.8 L467.76,405.5 L468.36,416.2 L458.86,416.5 Z M458.688,416.5 L468.188,416.2 L468.788,428.1 L459.288,428.40000000000003 Z M466.9,384.3 L476.4,384 L477.0,396 L467.5,396.3 Z M467.38,396.3 L476.88,396 L477.48,405.5 L467.98,405.8 Z M467.76,405.8 L477.26,405.5 L477.86,416.2 L468.36,416.5 Z M468.188,416.5 L477.688,416.2 L478.288,428.1 L468.788,428.40000000000003 Z M443.1,429.0 L452.6,428.7 L453.8,446 L444.3,446.3 Z M443.40000000000003,431.3 L452.8,431.0 M457.4,427.8 L466.9,427.5 L468.09999999999997,444.8 L458.59999999999997,445.1 Z M457.7,430.1 L467.09999999999997,429.8 " stroke-width="1.14" /><path d="M446,392 V397 M449,392 V397 M455,391 V396 M459,401 V406 M462,401 V406 M468,400 V405 M446,411 V416 M449,411 V416 M456,410 V415" stroke-width="1.08" /><path d="M371,373 L370,358 L372,356 M376,372 L378,359 Q381,355 385,357 L384,372 Z" stroke-width="1.2" /><path d="M478,400 L486,396 L490,404 L482,408 Z M480,410 L488,406 L492,414 L484,418 Z M476,420 L484,416 L488,424 L480,428 Z" stroke-width="1.08" /><path d="M435,383 L441,444 M479,430 L486,445 M470,432 L474,442" stroke-width="1.08" /><path d="M326,432 L333,439 M330,434 L336,440 M335,436 L341,441" stroke-width="0.96" /><path d="M828.9,396 H909.4 M954,396 H1035" stroke="#8a8a8a" stroke-width="1.6"/><path d="M873.6,355.6 V421.6 M1004.2,355.6 V421.6" stroke="#555" stroke-width="1.1"/><g transform="translate(0,0)"><path d="M860.6,391.1 L861.5,384.0 L863.6,374.0 L869.6,368.0 L876.4,359.6 L881.6,361.2 L886.7,365.6 L898.7,373.2 L899.6,380.2 L884.1,380.2 L886.7,386.9 L885.0,392.9 L887.0,398.0" stroke-width="2.03" /><path d="M864,382 L868,371 L876,362 M880,368 L885,364 M882,372 L888,367 M883,374 L880,384" stroke-width="1.22" /><ellipse cx="879.4" cy="365.4" rx="3.0" ry="2.8" stroke-width="1.62" fill="none" /><ellipse cx="879.4" cy="365.4" rx="1.4" ry="1.3" stroke-width="1.22" fill="none" /><path d="M885.5,386 L891,391" stroke-width="2.43" /><path d="M866,389 L870,385 L877,384 L880,388 M868,392 L871,388 M879,389 L884,392 L886,398" stroke-width="1.49" /><path d="M872,380 Q870,376 873,374 M874,371 L876,368" stroke-width="1.22" /><g transform="rotate(0 873.9 396.3)"><path d="M841.3,400.6 L862.7,394.1 L872.0,392.0 L878.0,396.0 L876.0,403.0 L867.9,404.2 L843.0,410.9 L838.7,406.0 L841.3,400.6 Z" stroke-width="2.16" /><ellipse cx="841.8" cy="405.5" rx="2.8" ry="2.8" stroke-width="1.76" fill="none" /><path d="M846,404 L872,397" stroke-width="1.2" stroke-dasharray="4 2.5"/><ellipse cx="873.9" cy="396.3" rx="5.5" ry="5.5" stroke-width="1.76" fill="none" /><ellipse cx="873.9" cy="396.3" rx="2.4" ry="2.4" stroke-width="2.43" fill="none" /><path d="M878.0,399.0 L884.1,401.4 L888.4,404.0 L883.3,409.1 L876.0,405.0" stroke-width="2.03" /><path d="M843.9,410.0 L850.7,418.6" stroke-width="2.97" /><path d="M849.0,420.3 L849.9,429.7 L854.0,428.5 L856.0,430.0 L861.0,429.7 L860.1,418.6 L856.0,416.5 L851.0,417.5 Z" stroke-width="2.16" /><ellipse cx="854.8" cy="421.8" rx="2.2" ry="2.2" stroke-width="1.62" fill="none" /><path d="M861.9,425.4 L879.9,423.7 L879.9,419.4" stroke-width="2.43" /></g></g><g transform="translate(130.6,0)"><path d="M860.6,391.1 L861.5,384.0 L863.6,374.0 L869.6,368.0 L876.4,359.6 L881.6,361.2 L886.7,365.6 L898.7,373.2 L899.6,380.2 L884.1,380.2 L886.7,386.9 L885.0,392.9 L887.0,398.0" stroke-width="2.03" /><path d="M864,382 L868,371 L876,362 M880,368 L885,364 M882,372 L888,367 M883,374 L880,384" stroke-width="1.22" /><ellipse cx="879.4" cy="365.4" rx="3.0" ry="2.8" stroke-width="1.62" fill="none" /><ellipse cx="879.4" cy="365.4" rx="1.4" ry="1.3" stroke-width="1.22" fill="none" /><path d="M885.5,386 L891,391" stroke-width="2.43" /><path d="M866,389 L870,385 L877,384 L880,388 M868,392 L871,388 M879,389 L884,392 L886,398" stroke-width="1.49" /><path d="M872,380 Q870,376 873,374 M874,371 L876,368" stroke-width="1.22" /><g transform="rotate(15 873.9 396.3)"><path d="M841.3,400.6 L862.7,394.1 L872.0,392.0 L878.0,396.0 L876.0,403.0 L867.9,404.2 L843.0,410.9 L838.7,406.0 L841.3,400.6 Z" stroke-width="2.16" /><ellipse cx="841.8" cy="405.5" rx="2.8" ry="2.8" stroke-width="1.76" fill="none" /><path d="M846,404 L872,397" stroke-width="1.2" stroke-dasharray="4 2.5"/><ellipse cx="873.9" cy="396.3" rx="5.5" ry="5.5" stroke-width="1.76" fill="none" /><ellipse cx="873.9" cy="396.3" rx="2.4" ry="2.4" stroke-width="2.43" fill="none" /><path d="M878.0,399.0 L884.1,401.4 L888.4,404.0 L883.3,409.1 L876.0,405.0" stroke-width="2.03" /><path d="M843.9,410.0 L850.7,418.6" stroke-width="2.97" /><path d="M849.0,420.3 L849.9,429.7 L854.0,428.5 L856.0,430.0 L861.0,429.7 L860.1,418.6 L856.0,416.5 L851.0,417.5 Z" stroke-width="2.16" /><ellipse cx="854.8" cy="421.8" rx="2.2" ry="2.2" stroke-width="1.62" fill="none" /><path d="M861.9,425.4 L879.9,423.7 L879.9,419.4" stroke-width="2.43" /></g></g><path d="M832,405 L836.5,404" stroke-width="1.89" /><path d="M918,391 H937 V386 L947,396 L937,405.5 V401 H918 Z" fill="#000" stroke="none"/><path d="M962.5,399.5 Q959,404 961.5,408.5" stroke-width="1.35" /><path d="M472.0,921.8 C470.3,922.6 465.3,924.8 462.0,926.6 C458.7,928.4 455.4,930.0 452.2,932.5 C449.0,935.0 444.6,937.6 442.8,941.8 C441.0,946.0 441.4,955.0 441.1,957.6 " stroke-width="1.8" /><path d="M441.1,957.6 C440.4,958.4 437.9,960.6 437.0,962.5 C436.1,964.4 436.1,966.5 435.8,968.7 C435.5,971.0 435.2,973.9 435.1,976.0 C435.0,978.1 435.0,979.3 435.3,981.5 C435.6,983.7 436.1,986.7 436.8,989.0 C437.5,991.3 438.1,993.5 439.3,995.5 C440.5,997.5 442.2,999.4 444.0,1001.0 C445.8,1002.6 448.8,1004.7 449.8,1005.4 " stroke-width="1.8" /><path d="M449.8,1005.4 C450.3,1006.5 451.8,1009.7 453.0,1012.0 C454.2,1014.3 455.3,1017.5 456.8,1019.4 C458.3,1021.3 459.9,1022.3 462.0,1023.5 C464.1,1024.7 466.9,1025.7 469.7,1026.4 C472.5,1027.2 475.9,1027.5 479.0,1028.0 C482.1,1028.5 486.8,1029.2 488.3,1029.4 " stroke-width="1.8" /><path d="M451,934.8 L452.2,960.5 M441.8,962 L449.8,1005.4 M459.8,1001.4 L467.3,1023.5" stroke-width="1.08" /><path d="M472.0,918.5 C472.4,918.2 473.6,916.9 474.5,916.8 C475.4,916.6 476.3,916.4 477.2,917.6 C478.1,918.8 478.7,920.7 480.0,924.0 C481.3,927.3 484.0,935.0 484.8,937.2 " stroke-width="1.68" /><path d="M472.0,918.5 C472.1,920.4 471.8,923.9 472.5,930.0 C473.2,936.1 474.6,945.8 476.0,955.0 C477.4,964.2 479.2,975.8 481.0,985.0 C482.8,994.2 484.7,1002.8 486.5,1010.0 C488.3,1017.2 490.9,1025.2 491.8,1028.2 " stroke-width="1.44" /><path d="M476.2,918.5 C476.4,920.8 476.6,925.4 477.3,932.0 C478.0,938.6 479.1,948.8 480.5,958.0 C481.9,967.2 483.8,978.0 485.5,987.0 C487.2,996.0 489.4,1005.5 491.0,1012.0 C492.6,1018.5 494.6,1023.6 495.3,1025.9 " stroke-width="1.2" /><path d="M485.7,917.7 L486.9,910.9 L506.3,908.0 L518.9,904.6 L520.0,900.6" stroke-width="1.8" /><path d="M488.0,924.6 L520.0,921.1" stroke-width="1.2" /><path d="M486.9,911 L488,924.6 M507,908.3 L509,922.5 M484.5,928 L487,924.6" stroke-width="1.2" /><path d="M519.6,900.8 L523.4,900.0 L530.3,937.1 L526.4,937.4 Z" stroke-width="1.32" /><path d="M526.9,886.9 L541.7,884.6 L552.6,886.9 L552.0,892.6 L544.0,896.0 L546.3,917.7 L536.0,920.0 L530.3,921.0" stroke-width="1.8" /><path d="M526.9,886.9 L527.5,891.5 L530.0,893.0 L533.0,904.0" stroke-width="1.44" /><path d="M530,889.5 L549,887.6 M533,894 L535,917 M540,902 L542,905" stroke-width="1.08" /><path d="M537.1,920.0 L548.6,929.1 L550.9,941.7 L558.9,948.6" stroke-width="1.8" /><path d="M547.0,938.0 L560.5,1000.0 L564.9,1022.0" stroke-width="1.32" /><path d="M532.6,940.6 L542.9,1000.0 L545.0,1010.0" stroke-width="1.08" /><path d="M558.9,948.6 L564.6,929.1 L582.9,925.9 L584.0,934.9 L581.7,945.1 L589.7,947.4 L593.1,960.0 L589.7,964.6 L586.3,966.9 L587.4,980.6 L574.9,987.4 L566.9,977.1 L560.0,984.0" stroke-width="1.8" /><path d="M564.6,929.1 L567,935 L583,932 M570,940 L575,980 M576,948 L588,946 M577,957 L589,955 M577,966 L586,965 M577,975 L586,974 M569,948 L571,975" stroke-width="1.08" /><path d="M486.0,937.0 L500.0,934.5 L506.0,933.0 L509.0,936.0 L487.0,940.6" stroke-width="1.2" /><path d="M491.7,944.0 L503.0,942.0 L506.0,950.0 L494.0,952.0 Z" stroke-width="1.32" /><path d="M495.3,925.5 C495.9,929.6 497.7,941.8 499.0,950.0 C500.3,958.2 501.7,967.0 503.0,975.0 C504.3,983.0 505.6,992.8 507.0,998.0 C508.4,1003.2 510.9,1004.7 511.7,1006.0 " stroke-width="1.2" /><path d="M500.0,925.5 C500.6,929.6 502.2,941.8 503.5,950.0 C504.8,958.2 506.2,967.0 507.5,975.0 C508.8,983.0 510.3,993.2 511.5,998.0 C512.7,1002.8 514.0,1003.0 514.5,1004.0 " stroke-width="1.2" /><path d="M486,940 L492,985 L496,996 M489,990 L505,987 M490,995 L506,992" stroke-width="1.2" /><path d="M512,978.3 L539.4,989.7 M518.9,996.6 L537.1,993.1 M514,1006 L557,998" stroke-width="1.2" /><path d="M497,946 L502,958 L500,968 L503,975" stroke-width="2.16" /><path d="M509,960 L520,958 M510,970 L522,968" stroke-width="1.08" /><path d="M503.5,999 L507,999 L508,1004 L503,1005 Z M515,1013 V1022" stroke-width="1.2" /><path d="M477,937.8 L492.4,1026.7 M480,937 L495,1025 M477,946 L495.4,944 M485.2,987.8 L503.6,985.8 M511.8,1006.2 L542.4,1001.1" stroke-width="1.2" /><path d="M532.2,938.8 L546.5,1022.6 M546.5,925.5 L550,930 M536,921 L546.5,925.5" stroke-width="1.2" /><path d="M485,950 H494 V958 H485 Z M489,962 H497 V970 H489 Z" stroke-width="1.2" /><path d="M497,952 L499.5,962 L498,968 L500.5,978 L499,985" stroke-width="2.28" /><path d="M521,1001 L530,999.5 L531,1004 L522,1005.5 Z M534,999 L540,998 L541,1003" stroke-width="1.2" /><path d="M503,1012 V1020 M507,1011.5 V1020 M501,1010 L510,1009" stroke-width="1.2" /><path d="M490.6,1032.3 L483.7,1038.0 L479.1,1043.7 L480.3,1052.9 L482.6,1065.4 L499.7,1062.0 L515.7,1057.4 L527.1,1055.1" stroke-width="1.92" /><path d="M490.6,1032.3 L530.0,1026.5 L563.7,1020.9 L570.6,1020.3 L572.9,1023.1 L577.4,1035.7 L572.9,1042.6 L559.1,1047.1 L540.9,1052.9" stroke-width="1.68" /><path d="M493.0,1038.0 L536.0,1031.0 L562.0,1026.5" stroke-width="1.2" /><path d="M506.6,1032.3 L508.9,1039.1 L509.0,1046.0 L525.0,1044.0 L552.0,1038.6 L567.0,1035.0" stroke-width="1.2" /><path d="M483.0,1050.0 L496.0,1048.0 L499.0,1061.0" stroke-width="1.2" /><path d="M486.0,1054.0 L497.0,1052.5" stroke-width="1.08" /><path d="M491,1045 L495,1040.5 L499,1045 Z" stroke-width="1.68" /><path d="M497,1019 L518,1016 L519,1023 L497,1026 Z M502,1014 V1019 M540,1025 V1016 H555 V1020" stroke-width="1.2" /><path d="M470,1028.4 L488.3,1030.5 L492,1027" stroke-width="1.2" /><path d="M526,1042 L545,1040 M522,1047 L560,1041" stroke-width="1.44" /><path d="M515.7,1051.7 C517.6,1052.1 523.3,1052.1 527.1,1054.0 C530.9,1055.9 534.4,1060.8 538.6,1063.1 C542.8,1065.4 547.7,1067.5 552.3,1067.7 C556.9,1067.9 562.2,1067.3 566.0,1064.3 C569.8,1061.2 572.4,1054.6 575.1,1049.4 C577.8,1044.2 581.2,1039.1 582.0,1033.4 C582.8,1027.7 581.4,1019.5 579.7,1015.1 C578.0,1010.7 574.4,1008.8 571.7,1007.1 C569.0,1005.4 565.0,1005.3 563.7,1004.9 " stroke-width="1.92" /><path d="M518.0,1049.4 C519.5,1049.6 523.7,1049.1 527.1,1050.6 C530.5,1052.1 534.8,1056.5 538.6,1058.6 C542.4,1060.7 546.2,1062.9 550.0,1063.1 C553.8,1063.3 558.0,1062.0 561.4,1059.7 C564.8,1057.4 568.1,1053.0 570.6,1049.4 C573.1,1045.8 575.3,1042.2 576.3,1038.0 C577.2,1033.8 577.2,1028.5 576.3,1024.3 C575.3,1020.1 572.7,1015.4 570.6,1012.9 C568.5,1010.4 564.9,1010.0 563.7,1009.4 " stroke-width="1.92" /><path d="M584.5,1013.4 C585.9,1013.4 591.7,1013.4 593.1,1013.4  L594,1014.8 L611.4,1015.8 L613.1,1038 M612.6,1043.7 V1064.3 H605.7 V1071.7 L586,1074.6 Q582.3,1074.6 582.3,1070 V1018 Q582.3,1013.4 586,1013.4" stroke-width="1.8" /><path d="M593.5,1014.5 V1026 M584,1022 H593 M604.5,1017 V1031 M604.5,1032 H613 M606,1027.5 V1034 H617.2 V1028 Z M613,1043.5 L603.5,1043.5 V1064 M600,1050 V1067 M581,1035 V1067" stroke-width="1.2" /><path d="M580.5,1056 h3 v3 h-3 z" stroke-width="1.08" /></g>
<path d="M138.3,263.5 L387.6,130.7 L156.6,263.5 Z" fill="#fff" stroke="#fff" stroke-width="5" stroke-linejoin="round"/><path d="M424.5,263.5 L413,131 L442.8,263.5 Z" fill="#fff" stroke="#fff" stroke-width="5" stroke-linejoin="round"/><path d="M684.8,263.5 L468,134 L702.3,263.5 Z" fill="#fff" stroke="#fff" stroke-width="5" stroke-linejoin="round"/><path d="M921.9,263.5 L621,173 L939.5,263.5 Z" fill="#fff" stroke="#fff" stroke-width="5" stroke-linejoin="round"/><path d="M514.3,1149 L386,1279 L532.4,1149 Z" fill="#fff" stroke="#fff" stroke-width="5" stroke-linejoin="round"/><rect x="335" y="149.5" width="11" height="13.5" fill="#fff"/><path d="M30,263.5 H138.3 L387.6,130.7 L156.6,263.5 H264.4 A24,24 0 0 1 288.4,287.5 V474.5 A24,24 0 0 1 264.4,498.5 H30 A24,24 0 0 1 6,474.5 V287.5 A24,24 0 0 1 30,263.5 Z" fill="none" stroke="#000" stroke-width="2.2" stroke-linejoin="miter"/><path d="M325.9,263.5 H424.5 L413,131 L442.8,263.5 H542.5 A24,24 0 0 1 566.5,287.5 V474.5 A24,24 0 0 1 542.5,498.5 H325.9 A24,24 0 0 1 301.9,474.5 V287.5 A24,24 0 0 1 325.9,263.5 Z" fill="none" stroke="#000" stroke-width="2.2" stroke-linejoin="miter"/><path d="M604.5,263.5 H684.8 L468,134 L702.3,263.5 H781.2 A24,24 0 0 1 805.2,287.5 V474.5 A24,24 0 0 1 781.2,498.5 H604.5 A24,24 0 0 1 580.5,474.5 V287.5 A24,24 0 0 1 604.5,263.5 Z" fill="none" stroke="#000" stroke-width="2.2" stroke-linejoin="miter"/><path d="M843.7,263.5 H921.9 L621,173 L939.5,263.5 H1020.8 A24,24 0 0 1 1044.8,287.5 V474.5 A24,24 0 0 1 1020.8,498.5 H843.7 A24,24 0 0 1 819.7,474.5 V287.5 A24,24 0 0 1 843.7,263.5 Z" fill="none" stroke="#000" stroke-width="2.2" stroke-linejoin="miter"/><path d="M288.7,872.3 H755.2 A25,25 0 0 1 780.2,897.3 V1124 A25,25 0 0 1 755.2,1149 H532.4 L386,1279 L514.3,1149 H288.7 A25,25 0 0 1 263.7,1124 V897.3 A25,25 0 0 1 288.7,872.3 Z" fill="none" stroke="#000" stroke-width="2.2" stroke-linejoin="miter"/><rect x="53.4" y="612" width="936.8" height="208" fill="none" stroke="#000" stroke-width="2.1"/><g fill="#000"><rect x="67" y="498" width="10" height="75"/><rect x="344" y="498" width="10" height="75"/><rect x="625" y="498" width="10" height="75"/><rect x="871" y="498" width="10" height="75"/><rect x="67" y="563" width="814" height="10"/><rect x="517" y="573" width="10" height="120"/><path d="M511.6,692 L532.4,692 L522,702.5 Z"/><rect x="517" y="820" width="10" height="41"/><path d="M511.6,860.3 L532.4,860.3 L522,870.8 Z"/></g><g font-family="'Liberation Sans', sans-serif" font-size="16.5" fill="#000"><text x="539" y="15.2" text-anchor="middle" textLength="179.78" lengthAdjust="spacing">VEHICLE INCLINATION</text><text x="287.3" y="54.5" text-anchor="middle" textLength="115.16" lengthAdjust="spacing">OPTICAL AXIS</text><text x="287.1" y="74" text-anchor="middle" textLength="185.2" lengthAdjust="spacing">CHANGED BY VEHICLE</text><text x="287.2" y="93.3" text-anchor="middle" textLength="104.29" lengthAdjust="spacing">INCLINATION</text><text x="147.8" y="292.8" text-anchor="middle" textLength="38.67" lengthAdjust="spacing">PCM</text><text x="432.4" y="292.8" text-anchor="middle" textLength="47.74" lengthAdjust="spacing">FBCM</text><text x="692.6" y="292.9" text-anchor="middle" textLength="191.06" lengthAdjust="spacing">INSTRUMENT CLUSTER</text><text x="933.5" y="292.9" text-anchor="middle" textLength="129.82" lengthAdjust="spacing">AUTO LEVELING</text><text x="933.5" y="312.4" text-anchor="middle" textLength="69.68" lengthAdjust="spacing">SENSOR</text><text x="85.2" y="536.2" textLength="222.29" lengthAdjust="spacing">(1) VEHICLE SPEED SIGNAL</text><text x="363.6" y="524.8" textLength="240.96" lengthAdjust="spacing">(1) HEADLIGHT ILLUMINATION</text><text x="363.9" y="544.1" textLength="128.05" lengthAdjust="spacing">STATUS SIGNAL</text><text x="644.9" y="524.8" textLength="170.34" lengthAdjust="spacing">(1) IGNITION SWITCH</text><text x="644.7" y="544.2" textLength="128.05" lengthAdjust="spacing">STATUS SIGNAL</text><text x="889.9" y="526.7" textLength="96.36" lengthAdjust="spacing">(1) VEHICLE</text><text x="889.7" y="546.1" textLength="128.54" lengthAdjust="spacing">HEIGHT SIGNAL</text><text x="522" y="721.3" text-anchor="middle" textLength="590.91" lengthAdjust="spacing">(1) TARGET OPTICAL AXIS IS CALCULATED BASED ON AVERAGE VEHICLE</text><text x="522.5" y="740.7" text-anchor="middle" textLength="588.28" lengthAdjust="spacing">INCLINATION AMOUNT 1 s PRIOR TO HEADLIGHT ON SIGNAL RECEPTION</text><text x="74.2" y="801.8" textLength="192.91" lengthAdjust="spacing">AFS CONTROL MODULE</text><text x="535.5" y="850.6" textLength="274.9" lengthAdjust="spacing">(2) TARGET OPTICAL AXIS SIGNAL</text><text x="287.7" y="1032" textLength="139.51" lengthAdjust="spacing">(3) OPTICAL AXIS</text><text x="356.7" y="1052.2" text-anchor="middle" textLength="72.19" lengthAdjust="spacing">CHANGE</text><text x="650" y="1108.6" text-anchor="middle" textLength="183.62" lengthAdjust="spacing">HEADLIGHT LEVELING</text><text x="650" y="1128" text-anchor="middle" textLength="87.23" lengthAdjust="spacing">ACTUATOR</text><text x="160.3" y="1201.9" text-anchor="middle" textLength="65.69" lengthAdjust="spacing">TARGET</text><text x="160" y="1221.3" text-anchor="middle" textLength="115.16" lengthAdjust="spacing">OPTICAL AXIS</text><text x="331.3" y="1200.8" text-anchor="middle" textLength="115.16" lengthAdjust="spacing">OPTICAL AXIS</text><text x="331.3" y="1220.5" text-anchor="middle" textLength="185.2" lengthAdjust="spacing">CHANGED BY VEHICLE</text><text x="331.3" y="1239.2" text-anchor="middle" textLength="104.29" lengthAdjust="spacing">INCLINATION</text><text x="240" y="1264" text-anchor="middle" textLength="95.95" lengthAdjust="spacing">(3) OPTICAL</text><text x="240" y="1283.2" text-anchor="middle" textLength="112.98" lengthAdjust="spacing">AXIS CHANGE</text></g>
</svg>
</body></html>
